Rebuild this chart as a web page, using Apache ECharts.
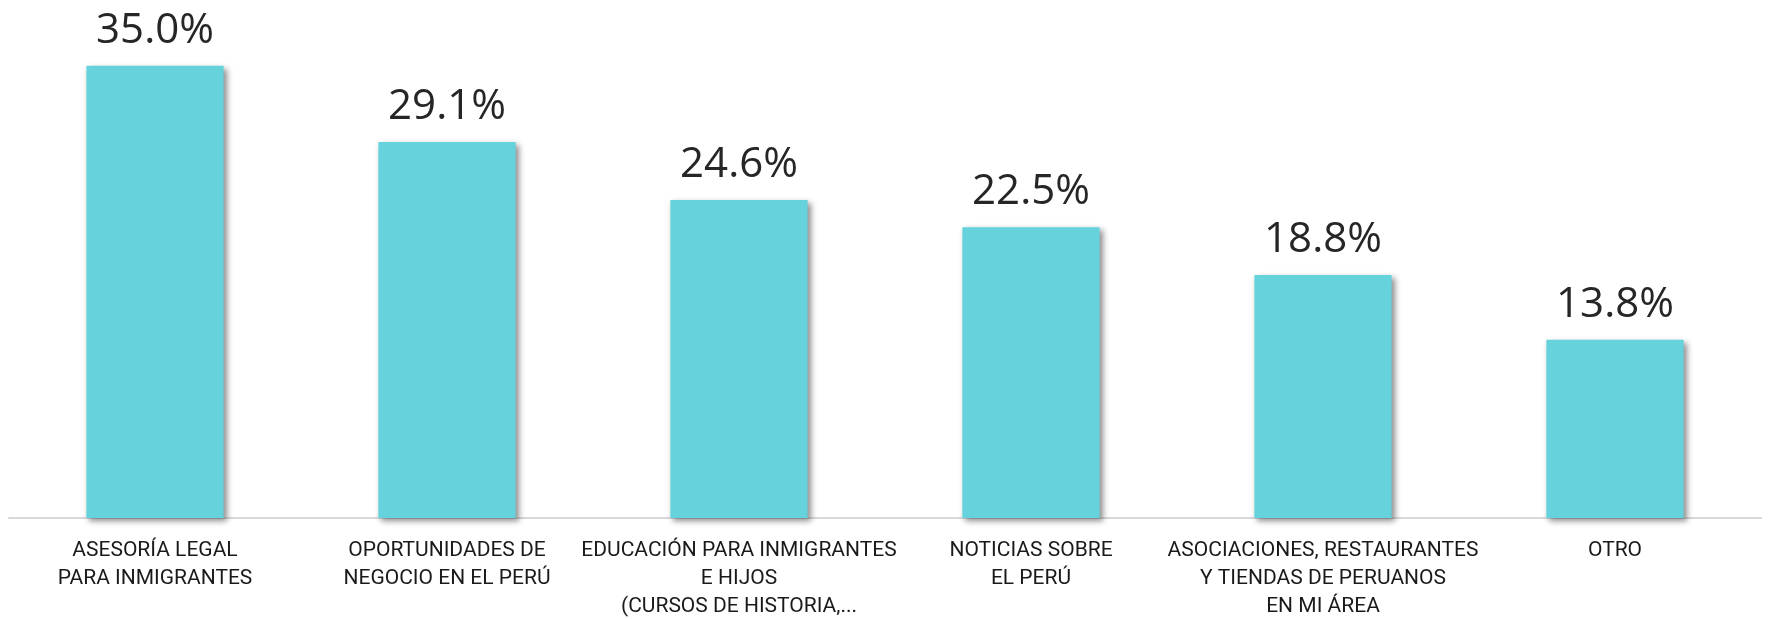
<!DOCTYPE html>
<html>
<head>
<meta charset="utf-8">
<script src="https://cdn.jsdelivr.net/npm/echarts@6/dist/echarts.min.js"></script>
<style>
  html, body { margin: 0; padding: 0; background: #fff; }
  #chart { width: 1769px; height: 619px; }
</style>
</head>
<body>
<div id="chart"></div>
<script>
// categories, as they appear under the axis
const categories = [
  "ASESORÍA LEGAL\nPARA INMIGRANTES",
  "OPORTUNIDADES DE\nNEGOCIO EN EL PERÚ",
  "EDUCACIÓN PARA INMIGRANTES\nE HIJOS\n(CURSOS DE HISTORIA,...",
  "NOTICIAS SOBRE\nEL PERÚ",
  "ASOCIACIONES, RESTAURANTES\nY TIENDAS DE PERUANOS\nEN MI ÁREA",
  "OTRO"
];

// percent values
const values = [35.0, 29.1, 24.6, 22.5, 18.8, 13.8];

const chart = echarts.init(document.getElementById("chart"));

chart.setOption({
  animation: false,
  // keep the grid fixed, labels may go near the edge
  grid: { left: 9, right: 8, top: 1, bottom: 101, outerBoundsMode: "none" },
  xAxis: {
    type: "category",
    data: categories,
    axisLine: { lineStyle: { color: "#d9d9d9", width: 2 } },
    axisTick: { show: false },
    axisLabel: {
      interval: 0,
      margin: 19,
      color: "#1a1a1a",
      fontFamily: "Roboto",
      fontSize: 21,
      lineHeight: 28
    }
  },
  yAxis: {
    type: "value",
    min: 0,
    max: 40,
    show: false,
    splitLine: { show: false }
  },
  series: [{
    type: "bar",
    data: values,
    barCategoryGap: "53%",
    itemStyle: {
      color: "#66d2dc",
      shadowColor: "rgba(0,0,0,0.45)",
      shadowBlur: 6,
      shadowOffsetX: 3,
      shadowOffsetY: 3
    },
    label: {
      show: true,
      position: "top",
      distance: 14,
      color: "#262626",
      fontFamily: "Open Sans",
      fontSize: 42,
      formatter: (p) => p.value.toFixed(1) + "%"
    }
  }]
});

// window resize
window.onresize = () => {
  chart.resize();
};
</script>
</body>
</html>
